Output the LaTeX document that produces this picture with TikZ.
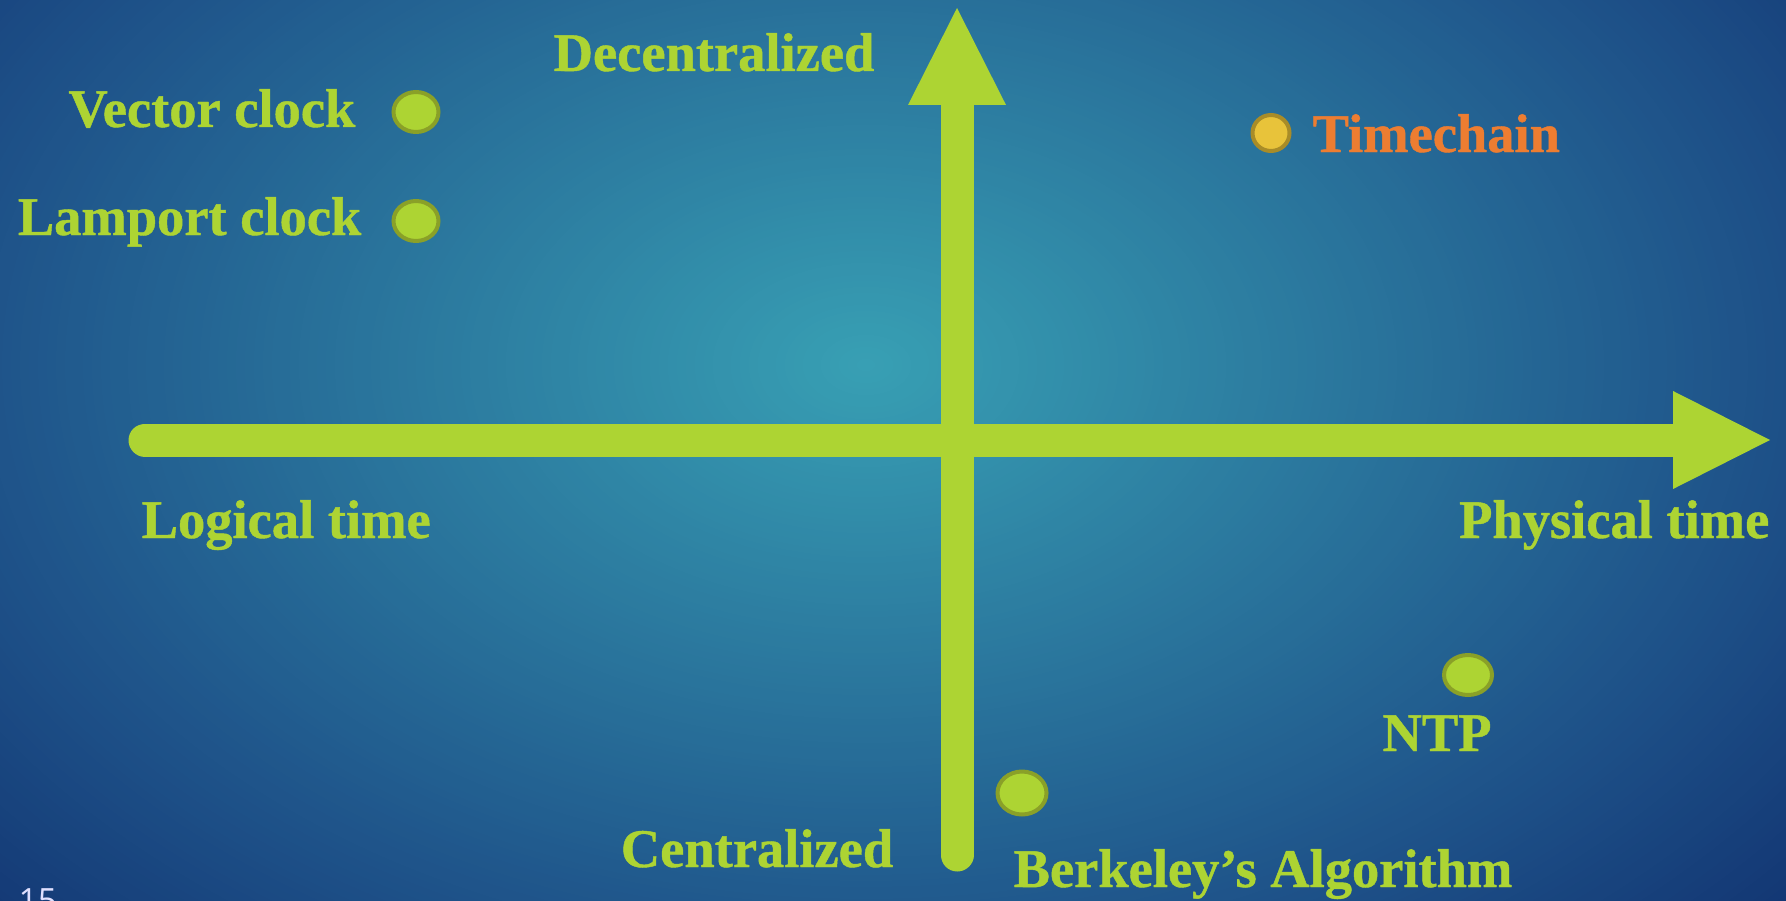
\documentclass[tikz,border=0pt]{standalone}
\usepackage{fontspec}
\setmainfont{Liberation Serif}[BoldFont={Liberation Serif Bold}]
\newfontfamily\lblfont{Liberation Serif Bold}[FakeBold=0.8]
\newfontfamily\pagefont{Open Sans}
\usetikzlibrary{shapes.geometric,arrows.meta}
\definecolor{lime}{RGB}{173,212,51}
\definecolor{limedark}{RGB}{138,160,40}
\definecolor{gold}{RGB}{232,195,58}
\definecolor{golddark}{RGB}{168,140,40}
\definecolor{tcorange}{RGB}{237,125,49}
\definecolor{bgin}{RGB}{56,160,180}
\definecolor{bgedge}{RGB}{30,82,137}
\definecolor{bgout}{RGB}{15,45,108}
\begin{document}
\begin{tikzpicture}[x=0.1mm,y=-0.1mm,
  lbl/.style={text=lime,font=\lblfont\fontsize{15.5}{18}\selectfont,inner sep=0pt},
  dot/.style={ellipse,draw=limedark,fill=lime,line width=0.4mm,minimum width=4.5mm,minimum height=4mm,inner sep=0pt},
  axis/.style={lime,line width=3.3mm,line cap=round,-{Triangle[length=9.7mm,width=9.8mm,line width=0pt]}}]
\useasboundingbox (0,0) rectangle (1786,900);
\begin{scope}
\clip (0,0) rectangle (1786,900);
\fill[bgout] (0,0) rectangle (1786,900);
\foreach \r in {1.50,1.49,...,1.01}{\pgfmathsetmacro\p{(\r-1)*200}
  \fill[bgout!\p!bgedge] (866,365) ellipse ({\r*90mm} and {\r*60mm});}
\foreach \r in {1.00,0.99,...,0.01}{\pgfmathsetmacro\p{\r*100}
  \fill[bgedge!\p!bgin] (866,365) ellipse ({\r*90mm} and {\r*60mm});}
\end{scope}
\draw[axis] (145,440)--(1770,440); \draw[axis] (957,855)--(957,8);
\node[lbl,anchor=base] (dec) at (714,71) {Decentralized};
\node[lbl,anchor=base] (cen) at (757,867) {Centralized};
\node[lbl,anchor=base west] (logic) at (141,538) {Logical time};
\node[lbl,anchor=base east] (phys) at (1770,538) {Physical time};
\node[dot] (vec) at (416,112) {}; \node[lbl,anchor=base east] (veclbl) at (356,127) {Vector clock};
\node[dot] (lamp) at (416,221) {}; \node[lbl,anchor=base east] (lamplbl) at (362,235) {Lamport clock};
\node[dot,draw=golddark,fill=gold,minimum width=3.7mm,minimum height=3.6mm] (tc) at (1271,133) {};
\node[lbl,text=tcorange,anchor=base west] (tclbl) at (1312,152) {Timechain};
\node[dot,minimum width=4.8mm,minimum height=4mm] (ntp) at (1468,675) {}; \node[lbl,anchor=base] (ntplbl) at (1437,751) {NTP};
\node[dot,minimum width=4.9mm,minimum height=4.3mm] (berk) at (1022,793) {};
\node[lbl,anchor=base] (berklbl) at (1263,887) {Berkeley’s Algorithm};
\node[text=white!88!blue,font=\pagefont\fontsize{9.5}{10}\selectfont,inner sep=0pt,anchor=base west] (page) at (18,912) {15};
\end{tikzpicture}
\end{document}
